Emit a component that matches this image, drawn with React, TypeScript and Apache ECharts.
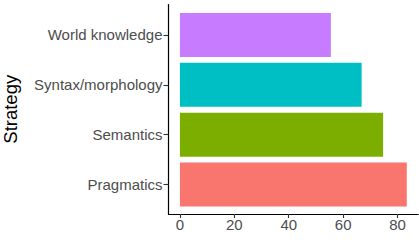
import React, { useEffect, useRef } from "react";
import * as echarts from "echarts";

const categories = ["Pragmatics", "Semantics", "Syntax/morphology", "World knowledge"];
const values = [83.4, 74.7, 66.8, 55.5];
const barColors = ["#F8766D", "#7CAE00", "#00BFC4", "#C77CFF"];
const xTicks = [0, 20, 40, 60, 80];
const axisTitle = "Strategy";

const FONT = "'Liberation Sans', Arial, Helvetica, sans-serif";
const X_MIN = -4.2;
const X_MAX = 87.6;

export default function App() {
  const ref = useRef<HTMLDivElement>(null);
  useEffect(() => {
    if (!ref.current) return;
    const chart = echarts.init(ref.current, undefined, { renderer: "svg" });
    chart.setOption({
      animation: false,
      backgroundColor: "#ffffff",
      grid: [
        { left: 168.5, width: 249.7, top: 4.5, height: 209.5, outerBoundsMode: "none", containLabel: false },
        { left: 168.5, width: 249.7, top: 10, height: 199.5, outerBoundsMode: "none", containLabel: false },
      ],
      xAxis: [
        {
          type: "value",
          gridIndex: 0,
          min: X_MIN,
          max: X_MAX,
          splitLine: { show: false },
          axisLine: { show: true, onZero: false, lineStyle: { color: "#000", width: 1.2 } },
          axisTick: { show: true, length: 4, customValues: xTicks, lineStyle: { color: "#333", width: 1.1 } },
          axisLabel: {
            customValues: xTicks,
            margin: 3,
            color: "#4D4D4D",
            fontSize: 15,
            fontFamily: FONT,
          },
        },
        {
          type: "value",
          gridIndex: 1,
          min: X_MIN,
          max: X_MAX,
          show: false,
          splitLine: { show: false },
        },
      ],
      yAxis: [
        {
          type: "value",
          gridIndex: 0,
          min: 0,
          max: 1,
          splitLine: { show: false },
          axisLine: { show: true, onZero: false, lineStyle: { color: "#000", width: 1.2 } },
          axisTick: { show: false },
          axisLabel: { show: false },
          name: axisTitle,
          nameLocation: "middle",
          nameGap: 149,
          nameTextStyle: { color: "#000", fontSize: 18.5, fontFamily: FONT },
        },
        {
          type: "category",
          gridIndex: 1,
          data: categories,
          axisLine: { show: false, onZero: false },
          axisTick: { show: true, alignWithLabel: true, length: 5, lineStyle: { color: "#333", width: 1.1 } },
          axisLabel: { margin: 6, color: "#4D4D4D", fontSize: 15, fontFamily: FONT },
          splitLine: { show: false },
        },
      ],
      series: [
        {
          type: "bar",
          xAxisIndex: 1,
          yAxisIndex: 1,
          barWidth: "88%",
          data: values.map((v, i) => ({ value: v, itemStyle: { color: barColors[i] } })),
        },
      ],
    });
    return () => chart.dispose();
  }, []);
  return <div ref={ref} style={{ width: 419, height: 242, position: "absolute", left: 0, top: 0 }} />;
}
